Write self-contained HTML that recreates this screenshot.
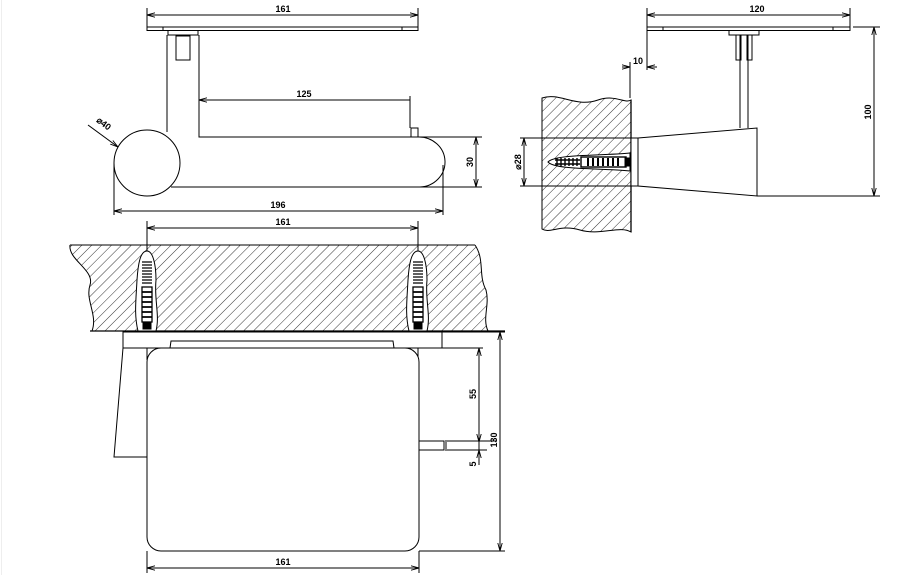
<!DOCTYPE html>
<html><head><meta charset="utf-8"><style>
html,body{margin:0;padding:0;background:#fff;}
svg{display:block;}
text{font-family:"Liberation Sans",sans-serif;font-weight:bold;font-size:9px;fill:#000;}
</style></head><body>
<svg width="924" height="575" viewBox="0 0 924 575" xmlns="http://www.w3.org/2000/svg">
<defs>
<pattern id="h" width="7" height="7" patternUnits="userSpaceOnUse" patternTransform="rotate(45)">
<line x1="0" y1="0" x2="0" y2="7" stroke="#000" stroke-width="0.8"/>
</pattern>
<marker id="a" markerWidth="8" markerHeight="6" refX="8" refY="3" orient="auto-start-reverse" markerUnits="userSpaceOnUse">
<path d="M0,0.8 L8,3 L0,5.2" fill="none" stroke="#000" stroke-width="0.9"/>
</marker>
</defs>
<rect x="0" y="0" width="924" height="575" fill="#fff"/>
<line x1="1.5" y1="0" x2="1.5" y2="575" stroke="#eee" stroke-width="1"/>
<g stroke="#000" stroke-width="1" fill="none">
<!-- ===== TOP LEFT VIEW ===== -->
<line x1="147" y1="8" x2="147" y2="27"/><line x1="418" y1="8" x2="418" y2="27"/>
<line x1="147" y1="15" x2="418" y2="15" marker-start="url(#a)" marker-end="url(#a)"/>
<rect x="147" y="27" width="271" height="3.5"/>
<line x1="163" y1="27" x2="163" y2="30.5"/><line x1="402" y1="27" x2="402" y2="30.5"/>
<rect x="168" y="30.5" width="30" height="4.5"/>
<rect x="176" y="36" width="14" height="24"/>
<path d="M167,35 V132 M199,35 V137 H411"/>
<rect x="411" y="128" width="7" height="9"/>
<path d="M418,137 A26,25 0 0 1 420,187 H171"/>
<circle cx="147" cy="163" r="33"/>
<line x1="199" y1="100" x2="410" y2="100" marker-start="url(#a)"/>
<line x1="410" y1="96" x2="410" y2="128"/>
<line x1="418" y1="137" x2="482" y2="137"/><line x1="420" y1="187" x2="482" y2="187"/>
<line x1="476" y1="137" x2="476" y2="187" marker-start="url(#a)" marker-end="url(#a)"/>
<line x1="114" y1="163" x2="114" y2="215"/><line x1="443" y1="165" x2="443" y2="215"/>
<line x1="114" y1="211" x2="443" y2="211" marker-start="url(#a)" marker-end="url(#a)"/>
<line x1="88" y1="125" x2="118" y2="147" marker-end="url(#a)"/>
<!-- ===== TOP RIGHT VIEW ===== -->
<line x1="647" y1="8" x2="647" y2="27"/><line x1="850" y1="8" x2="850" y2="27"/>
<line x1="647" y1="15" x2="850" y2="15" marker-start="url(#a)" marker-end="url(#a)"/>
<rect x="647" y="27" width="203" height="3.5"/>
<line x1="663" y1="27" x2="663" y2="30.5"/><line x1="833" y1="27" x2="833" y2="30.5"/>
<rect x="729" y="30.5" width="30" height="4.5"/>
<rect x="736" y="35" width="5" height="25"/><rect x="747" y="35" width="5" height="25"/>
<line x1="740" y1="35" x2="740" y2="128"/><line x1="748" y1="35" x2="748" y2="128"/>
<line x1="647" y1="30" x2="647" y2="70"/>
<line x1="630" y1="62" x2="630" y2="98"/>
<line x1="622" y1="67" x2="630" y2="67" marker-end="url(#a)"/>
<line x1="657" y1="67" x2="647" y2="67" marker-end="url(#a)"/>
<path d="M542,98 C560,92 575,108 598,100 C615,94 625,104 631,100 V232 C620,225 600,236 580,230 C560,224 550,234 542,229 Z" fill="url(#h)"/>
<line x1="631" y1="100" x2="631" y2="232" stroke-width="1.3"/>
<rect x="631" y="138" width="7" height="48" fill="#fff"/>
<path d="M638,138 L757,128 V196 L638,186 Z" fill="#fff"/>
<line x1="757" y1="196" x2="880" y2="196"/><line x1="853" y1="27" x2="880" y2="27"/>
<line x1="874" y1="27" x2="874" y2="196" marker-start="url(#a)" marker-end="url(#a)"/>
<line x1="520" y1="138" x2="631" y2="138"/><line x1="520" y1="186" x2="631" y2="186"/>
<line x1="524" y1="138" x2="524" y2="186" marker-start="url(#a)" marker-end="url(#a)"/>
<path d="M548,162 C555,154 600,156 630,153 V171 C600,168 555,170 548,162 Z" fill="#fff"/>
<g stroke-width="1.4">
<path d="M555,160 H580 M555,164 H580"/>
<path d="M557,158 V166 M561,158 V166 M565,158 V166 M569,158 V166 M573,158 V166 M577,158 V166"/>
</g>
<rect x="581" y="157" width="45" height="10" stroke-width="1.4"/>
<path d="M588,158 V166 M593,158 V166 M598,158 V166 M603,158 V166 M608,158 V166 M613,158 V166 M618,158 V166" stroke-width="2"/>
<rect x="625" y="158" width="5" height="8" fill="#000"/>
<!-- ===== BOTTOM VIEW ===== -->
<line x1="147" y1="221" x2="147" y2="360"/><line x1="418" y1="221" x2="418" y2="360"/>
<line x1="147" y1="228" x2="418" y2="228" marker-start="url(#a)" marker-end="url(#a)"/>
<path d="M70,245 H475 C485,260 478,275 486,290 C490,305 482,318 488,331 H92 C98,315 85,300 90,285 C95,270 68,260 70,245 Z" fill="url(#h)" stroke="none"/>
<path d="M70,245 H475 M475,245 C485,260 478,275 486,290 C490,305 482,318 488,331 M70,245 C68,260 95,270 90,285 C85,300 98,315 92,331"/>
<line x1="90" y1="331" x2="505" y2="331" stroke-width="1.3"/>
<g id="anc">
<path d="M147,251 C140,251 138,265 137,280 C136,300 134,315 138,331 H156 C160,315 154,300 156,280 C156,265 153,251 147,251 Z" fill="#fff"/>
<path d="M142,262 H152 M142,265 H152 M142,268 H152 M142,271 H152 M142,274 H152 M142,277 H152 M142,280 H152 M142,283 H152" stroke-width="1.2"/>
<rect x="142" y="287" width="10" height="35" stroke-width="1.3"/>
<path d="M142,292 H152 M142,297 H152 M142,302 H152 M142,307 H152 M142,312 H152 M142,317 H152" stroke-width="1.8"/>
<rect x="143" y="323" width="8" height="6" fill="#000"/>
</g>
<use href="#anc" x="271"/>
<rect x="123" y="332" width="319" height="16" fill="#fff"/>
<path d="M170,348 L171,341 H393 L394,348"/>
<path d="M123,348 L114,457 H147"/>
<rect x="147" y="348" width="272" height="203" rx="14" ry="14" fill="#fff"/>
<rect x="419" y="441" width="25" height="9"/>
<path d="M447,441 H497 M447,450 H487"/>
<line x1="446" y1="440" x2="446" y2="451"/>
<line x1="442" y1="332" x2="505" y2="332"/>
<line x1="419" y1="348" x2="483" y2="348"/>
<line x1="419" y1="551" x2="505" y2="551"/>
<line x1="479" y1="348" x2="479" y2="442" marker-start="url(#a)" marker-end="url(#a)"/>
<line x1="479" y1="442" x2="479" y2="450"/>
<line x1="479" y1="450" x2="479" y2="465" marker-start="url(#a)"/>
<line x1="500" y1="332" x2="500" y2="551" marker-start="url(#a)" marker-end="url(#a)"/>
<line x1="147" y1="551" x2="147" y2="573"/><line x1="419" y1="551" x2="419" y2="573"/>
<line x1="147" y1="568" x2="419" y2="568" marker-start="url(#a)" marker-end="url(#a)"/>
</g>
<!-- texts -->
<text x="283" y="12" text-anchor="middle">161</text>
<text x="304" y="97" text-anchor="middle">125</text>
<text x="278" y="208" text-anchor="middle">196</text>
<text x="0" y="0" text-anchor="middle" transform="translate(473,162) rotate(-90)">30</text>
<text x="0" y="0" text-anchor="middle" transform="translate(102,126) rotate(37)">⌀40</text>
<text x="757" y="12" text-anchor="middle">120</text>
<text x="638" y="64" text-anchor="middle">10</text>
<text x="0" y="0" text-anchor="middle" transform="translate(871,112) rotate(-90)">100</text>
<text x="0" y="0" text-anchor="middle" transform="translate(521,162) rotate(-90)">⌀28</text>
<text x="283" y="225" text-anchor="middle">161</text>
<text x="283" y="565" text-anchor="middle">161</text>
<text x="0" y="0" text-anchor="middle" transform="translate(476,394) rotate(-90)">55</text>
<text x="0" y="0" text-anchor="middle" transform="translate(476,464) rotate(-90)">5</text>
<text x="0" y="0" text-anchor="middle" transform="translate(497,440) rotate(-90)">130</text>
</svg>
</body></html>
